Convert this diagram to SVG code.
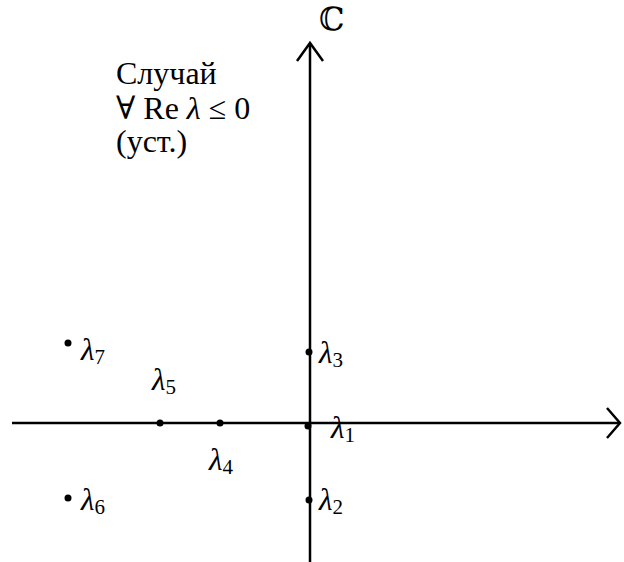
<svg xmlns="http://www.w3.org/2000/svg" width="624" height="562" viewBox="0 0 624 562">
<style>
text{font-family:"Liberation Serif","DejaVu Serif",serif;font-size:32px;fill:#000}
.l{font-style:italic;font-size:31px}
.s{font-size:21px;font-style:normal}
.ax{stroke:#000;stroke-width:2.5;fill:none}
</style>
<rect width="624" height="562" fill="#fff"/>
<g id="connectors">
<line class="ax" x1="310" y1="44" x2="310" y2="562"/>
<polyline class="ax" points="297,61 310,43 323,61"/>
<line class="ax" x1="12" y1="423" x2="619" y2="423"/>
<polyline class="ax" points="607,408 620,423 607,438"/>
</g>
<g id="title">
<text x="116" y="84">Случай</text>
<text x="116" y="119">∀ Re <tspan font-style="italic">λ</tspan> ≤ 0</text>
<text x="116" y="152">(уст.)</text>
</g>
<g id="C"><text x="319" y="30" font-family="DejaVu Serif" font-size="34">ℂ</text></g>
<g id="l7"><circle cx="68" cy="343" r="3.5"/><text class="l" x="81" y="360">λ<tspan class="s" dy="4">7</tspan></text></g>
<g id="l6"><circle cx="68" cy="498" r="3.5"/><text class="l" x="81" y="510">λ<tspan class="s" dy="4">6</tspan></text></g>
<g id="l5"><circle cx="160" cy="423" r="3.5"/><text class="l" x="152" y="390">λ<tspan class="s" dy="4">5</tspan></text></g>
<g id="l4"><circle cx="220" cy="423" r="3.5"/><text class="l" x="209" y="470">λ<tspan class="s" dy="4">4</tspan></text></g>
<g id="l3"><circle cx="309" cy="352" r="3.5"/><text class="l" x="319" y="363">λ<tspan class="s" dy="4">3</tspan></text></g>
<g id="l1"><circle cx="308" cy="426" r="3.5"/><text class="l" x="331" y="438">λ<tspan class="s" dy="4">1</tspan></text></g>
<g id="l2"><circle cx="309" cy="500" r="3.5"/><text class="l" x="319" y="510">λ<tspan class="s" dy="4">2</tspan></text></g>
</svg>
